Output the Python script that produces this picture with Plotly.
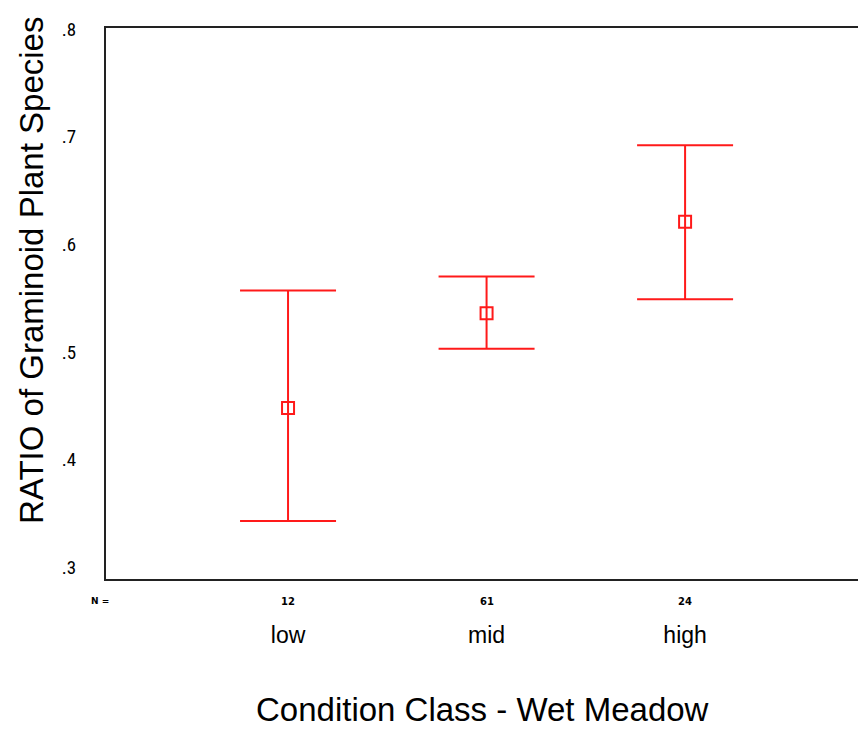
import plotly.graph_objects as go

categories = ["low", "mid", "high"]
counts = ["12", "61", "24"]
means = [0.448, 0.536, 0.621]
upper = [0.557, 0.570, 0.692]
lower = [0.343, 0.503, 0.549]
ytick_vals = [0.3, 0.4, 0.5, 0.6, 0.7, 0.8]
ytick_text = [".3", ".4", ".5", ".6", ".7", ".8"]

xpos = list(range(len(categories)))
err_plus = [u - m for u, m in zip(upper, means)]
err_minus = [m - l for m, l in zip(means, lower)]

RED = "#ff1a1a"
fig = go.Figure()
fig.add_trace(go.Scatter(
    x=xpos, y=means, mode="markers",
    marker=dict(symbol="square-open", size=12, color=RED, line=dict(width=2, color=RED)),
    error_y=dict(type="data", symmetric=False, array=err_plus, arrayminus=err_minus,
                 color=RED, thickness=2, width=48),
    showlegend=False, hoverinfo="skip",
))

narrow = "Liberation Sans Narrow, Roboto Condensed, Liberation Sans, Arial, sans-serif"
for x, c in zip(xpos, counts):
    fig.add_annotation(x=x, y=-0.04, xref="x", yref="paper", text="<b>" + c + "</b>",
                       showarrow=False, font=dict(family="DejaVu Sans", size=10, color="black"),
                       yanchor="middle")
fig.add_annotation(x=-0.008, y=-0.04, xref="paper", yref="paper", text="<b>N =</b>",
                   showarrow=False, font=dict(family="DejaVu Sans", size=9, color="black"),
                   xanchor="center", yanchor="middle")

fig.add_annotation(x=0.5, xref="paper", y=-0.237, yref="paper",
                   text="Condition Class - Wet Meadow", showarrow=False,
                   font=dict(family="Liberation Sans, Arial, sans-serif", size=33, color="black"),
                   xanchor="center", yanchor="middle")
fig.add_annotation(x=-0.099, xref="paper", y=0.56, yref="paper",
                   text="RATIO of Graminoid Plant Species", showarrow=False, textangle=-90,
                   font=dict(family="Liberation Sans, Arial, sans-serif", size=33, color="black"),
                   xanchor="center", yanchor="middle")

fig.update_layout(
    width=858, height=730,
    margin=dict(l=106, r=0, t=28, b=151),
    paper_bgcolor="white", plot_bgcolor="white",
    xaxis=dict(range=[-0.917, 2.871], tickvals=xpos, ticktext=categories,
               showgrid=False, zeroline=False, showline=True, linecolor="#222", linewidth=2,
               mirror=True, ticks="", ticklabelstandoff=34,
               tickfont=dict(family="Liberation Sans, Arial, sans-serif", size=23, color="black")),
    yaxis=dict(range=[0.289, 0.801], tickvals=ytick_vals, ticktext=ytick_text,
               showgrid=False, zeroline=False, showline=True, linecolor="#222", linewidth=2,
               ticks="", ticklabelstandoff=24,
               tickfont=dict(family=narrow, size=19, color="black")),
)

fig.write_html("out.html", config={"displayModeBar": False},
               post_script="document.body.style.margin='0';document.body.style.padding='0';")
